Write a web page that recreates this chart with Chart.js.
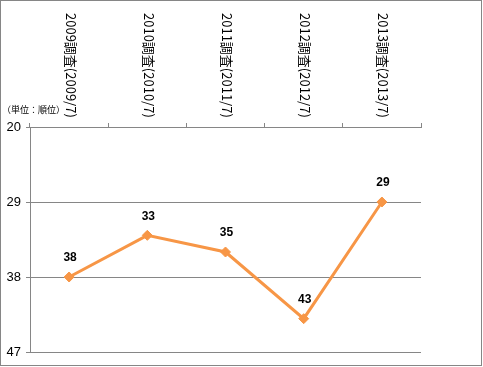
<!DOCTYPE html>
<html>
<head>
<meta charset="utf-8">
<script src="https://cdn.jsdelivr.net/npm/chart.js@4.4.0/dist/chart.umd.min.js"></script>
<style>
  html, body { margin: 0; padding: 0; background: #fff; }
  #wrap { width: 483px; height: 367px; }
</style>
</head>
<body>
<div id="wrap"><canvas id="rankChart" width="483" height="367"></canvas></div>
<script>
        // Chart data
        const categories = ['2009調査(2009/7)', '2010調査(2010/7)', '2011調査(2011/7)', '2012調査(2012/7)', '2013調査(2013/7)'];
        const ranks = [38, 33, 35, 43, 29];
        const rankTicks = [20, 29, 38, 47];
        const unitLabel = '（単位：順位）';

        const gridGray = '#868686';
        const lineOrange = '#F79646';

        // Rotated category labels, value labels, unit label and frame
        const labelPlugin = {
            id: 'labelPlugin',
            afterDraw(chart) {
                const ctx = chart.ctx;
                const xScale = chart.scales.x;
                ctx.save();
                ctx.fillStyle = '#000';

                // category labels read top to bottom
                ctx.font = '13px "Noto Sans CJK JP"';
                ctx.textAlign = 'left';
                ctx.textBaseline = 'middle';
                categories.forEach((label, i) => {
                    const x = xScale.getPixelForValue(i) + 1.5;
                    ctx.save();
                    ctx.translate(x, 13);
                    ctx.rotate(Math.PI / 2);
                    ctx.fillText(label, 0, 0);
                    ctx.restore();
                });

                // value labels above points
                const meta = chart.getDatasetMeta(0);
                ctx.font = 'bold 12px "Liberation Sans"';
                ctx.textAlign = 'center';
                meta.data.forEach((pt, i) => {
                    ctx.fillText(String(ranks[i]), pt.x + 1, pt.y - 19);
                });

                // unit label
                ctx.font = '9px "Noto Sans CJK JP"';
                ctx.textAlign = 'left';
                ctx.fillText(unitLabel, 2, 110);

                // outer frame
                ctx.strokeStyle = gridGray;
                ctx.lineWidth = 1;
                ctx.strokeRect(0.5, 0.5, 481, 365);
                ctx.restore();
            }
        };

        const ctx = document.getElementById('rankChart');
        new Chart(ctx, {
            type: 'line',
            data: {
                labels: categories,
                datasets: [{
                    data: ranks,
                    borderColor: lineOrange,
                    backgroundColor: lineOrange,
                    borderWidth: 3,
                    tension: 0,
                    fill: false,
                    pointStyle: 'rectRot',
                    pointRadius: 5,
                    pointBorderWidth: 1,
                    pointBorderColor: lineOrange,
                    pointBackgroundColor: lineOrange,
                    clip: false
                }]
            },
            options: {
                responsive: false,
                animation: false,
                devicePixelRatio: 1,
                layout: {
                    autoPadding: false,
                    padding: { left: 0, top: 0, right: 62, bottom: 15 }
                },
                plugins: {
                    legend: { display: false },
                    tooltip: { enabled: false }
                },
                scales: {
                    x: {
                        position: 'top',
                        offset: true,
                        ticks: { display: false },
                        grid: {
                            offset: true,
                            drawOnChartArea: false,
                            drawTicks: true,
                            tickLength: 4,
                            color: gridGray
                        },
                        border: { color: gridGray, width: 1 },
                        afterFit: scale => { scale.height = 127; }
                    },
                    y: {
                        reverse: true,
                        min: rankTicks[0],
                        max: rankTicks[rankTicks.length - 1],
                        afterBuildTicks: scale => {
                            scale.ticks = rankTicks.map(v => ({ value: v }));
                        },
                        ticks: {
                            color: '#000',
                            padding: 5,
                            font: { family: '"Liberation Sans"', size: 13 }
                        },
                        grid: {
                            color: gridGray,
                            tickLength: 4,
                            drawTicks: true
                        },
                        border: { color: gridGray, width: 1 },
                        afterFit: scale => { scale.width = 30; }
                    }
                }
            },
            plugins: [labelPlugin]
        });
</script>
</body>
</html>
